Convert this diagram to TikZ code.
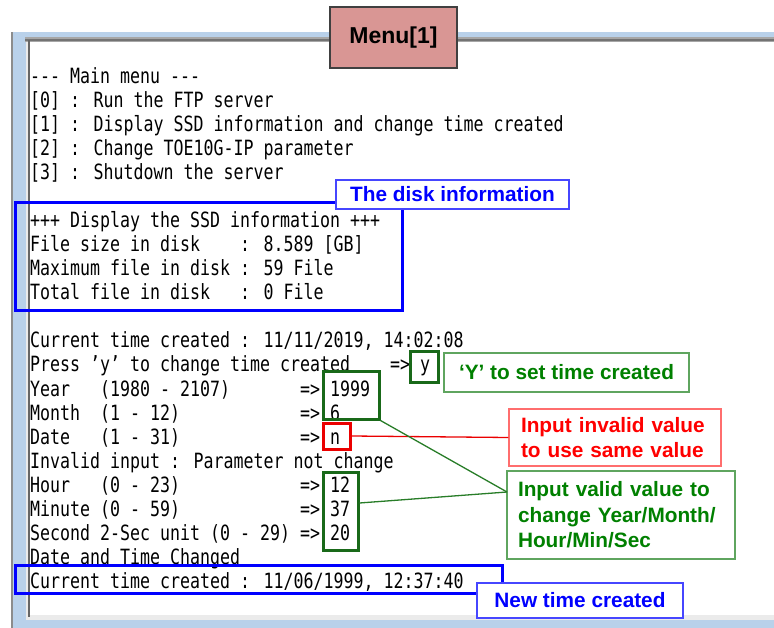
\documentclass[tikz,border=0pt]{standalone}
\usepackage{fontspec}
\setmainfont{Liberation Sans}
\newfontfamily\termfont[FakeStretch=0.791]{DejaVu Sans Mono}
\newcommand\hy{\mbox{-}}
\definecolor{termblue}{RGB}{0,0,255}
\definecolor{labblue}{RGB}{70,70,255}
\definecolor{boxgreen}{RGB}{25,105,25}
\definecolor{labgreen}{RGB}{95,165,95}
\definecolor{txtgreen}{RGB}{0,128,0}
\definecolor{linegreen}{RGB}{40,125,40}
\definecolor{boxred}{RGB}{235,0,0}
\definecolor{labred}{RGB}{255,110,110}
\definecolor{menufill}{RGB}{217,150,148}
\definecolor{frameblue}{RGB}{185,209,234}
\begin{document}
\begin{tikzpicture}[x=1pt,y=-1pt,
  term/.style={anchor=base west, inner sep=0pt, font=\fontsize{21}{24}\termfont},
  hl/.style={line width=3pt, inner sep=0pt},
  lab/.style={fill=white, line width=1.2pt, inner sep=0pt, align=left,
    font=\fontsize{20.8}{25.5}\selectfont\bfseries},
  lablines/.style={fill=white, line width=1.2pt, inner ysep=0pt, align=left,
    font=\fontsize{20.8}{25.5}\selectfont\bfseries}]
\useasboundingbox (0,0) rectangle (774,628);
\fill[white] (0,0) rectangle (774,628);
% window frame
\fill[frameblue] (13,32) rectangle (774,628);
\fill[black!35] (25,37) rectangle (774,42);
\fill[black!55] (25,39) rectangle (774,41);
\fill[black!8] (26,42) rectangle (774,620);
\fill[white] (30,42) rectangle (774,615);
\fill[black!60] (27.5,40) rectangle (29.5,617);
\fill[black!45] (11,32) rectangle (12.5,628);
% terminal text
\node[term] (t0) at (30,84) {\hy\hy\hy{} Main menu \hy\hy\hy};
\node[term] (t1) at (30,108) {[0] : Run the FTP server};
\node[term] (t2) at (30,132) {[1] : Display SSD information and change time created};
\node[term] (t3) at (30,156) {[2] : Change TOE10G-IP parameter};
\node[term] (t4) at (30,180) {[3] : Shutdown the server};
\node[term] (t6) at (30,228) {+++ Display the SSD information +++};
\node[term] (t7) at (30,252) {File size in disk~~~~: 8.589 [GB]};
\node[term] (t8) at (30,276) {Maximum file in disk : 59 File};
\node[term] (t9) at (30,300) {Total file in disk~~~: 0 File};
\node[term] (t11) at (30,348) {Current time created : 11/11/2019, 14:02:08};
\node[term] (t12) at (30,372) {Press ’y’ to change time created~~~~=> y};
\node[term] (t13) at (30,396) {Year~~~(1980 - 2107)~~~~~~~=> 1999};
\node[term] (t14) at (30,420) {Month~~(1 - 12)~~~~~~~~~~~~=> 6};
\node[term] (t15) at (30,444) {Date~~~(1 - 31)~~~~~~~~~~~~=> n};
\node[term] (t16) at (30,468) {Invalid input : Parameter not change};
\node[term] (t17) at (30,492) {Hour~~~(0 - 23)~~~~~~~~~~~~=> 12};
\node[term] (t18) at (30,516) {Minute (0 - 59)~~~~~~~~~~~~=> 37};
\node[term] (t19) at (30,540) {Second 2-Sec unit (0 - 29) => 20};
\node[term] (t20) at (30,564) {Date and Time Changed};
\node[term] (t21) at (30,588) {Current time created : 11/06/1999, 12:37:40};
% highlight boxes
\node[hl, draw=termblue, minimum width=387pt, minimum height=108pt] (diskbox) at (208.5,257) {};
\node[hl, draw=termblue, minimum width=487pt, minimum height=28pt] (newbox) at (258.5,579) {};
\node[hl, draw=boxgreen, minimum width=28pt, minimum height=30pt] (ybox) at (424,367) {};
\node[hl, draw=boxgreen, minimum width=56pt, minimum height=47pt] (yrbox) at (351,395.5) {};
\node[hl, draw=boxred, minimum width=27pt, minimum height=26pt] (nbox) at (336.5,436) {};
\node[hl, draw=boxgreen, minimum width=35pt, minimum height=78pt] (hmsbox) at (340.5,511) {};
% labels
\node[lab, draw=labblue, text=termblue, minimum width=233pt, minimum height=29pt] (disklab) at (452.5,194.5) {The disk information};
\node[lab, draw=labblue, text=termblue, minimum width=206pt, minimum height=35pt] (newlab) at (580,600.5) {New time created};
\node[lab, draw=labgreen, text=txtgreen, minimum width=245pt, minimum height=39pt] (ylab) at (566.5,372.5) {‘Y’ to set time created};
\node[lablines, draw=labred, text=red, inner xsep=12pt, text width=188pt, minimum height=57pt] (invlab) at (615,437.5) {Input invalid value\\to use same value};
\node[lablines, draw=labgreen, text=txtgreen, inner xsep=11pt, text width=206pt, minimum height=88pt] (vallab) at (621,515) {Input valid value to\\change Year/Month/\\Hour/Min/Sec};
\coordinate (vj) at (507,492);
% connectors
\draw[boxred, line width=1.3pt] (nbox.east) -- (invlab.west);
\draw[linegreen, line width=1.3pt] (yrbox.south east) -- (vj);
\draw[linegreen, line width=1.3pt] ([yshift=8pt]hmsbox.east) -- (vj);
% menu title
\node[draw=black!75, fill=menufill, line width=1.5pt, minimum width=127pt, minimum height=61pt, inner sep=0pt,
  font=\fontsize{23}{26}\selectfont\bfseries] (menu) at (393.5,37.5) {Menu[1]};
\end{tikzpicture}
\end{document}
